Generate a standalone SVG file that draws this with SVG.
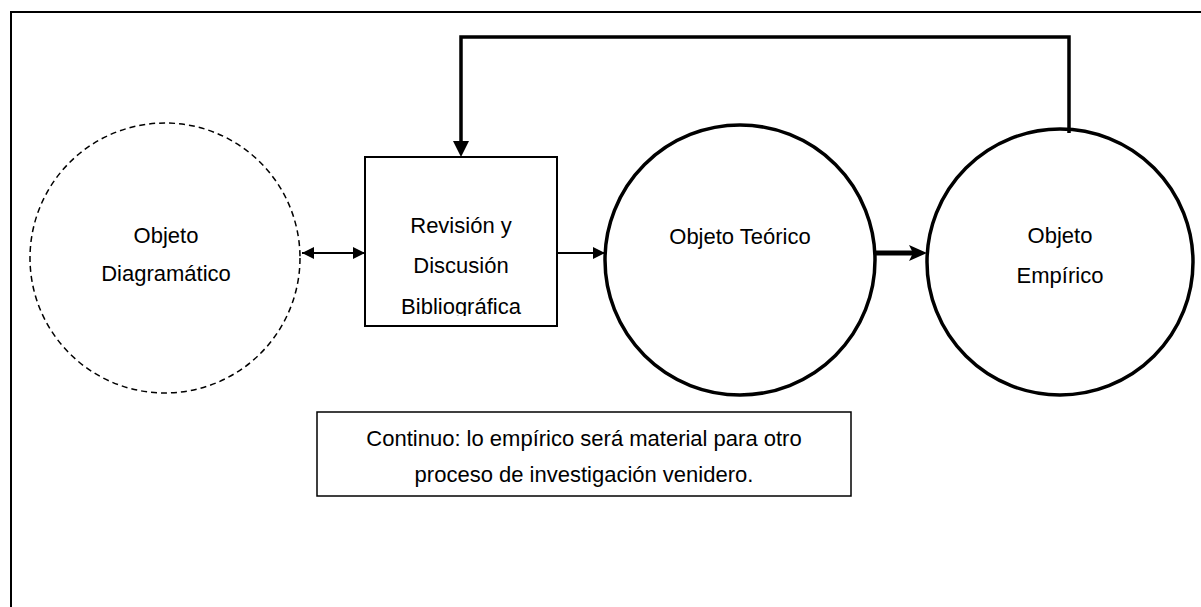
<svg xmlns="http://www.w3.org/2000/svg" width="1201" height="607" viewBox="0 0 1201 607">
<style>
text{font-family:"Liberation Sans",Arial,sans-serif;font-size:22px;fill:#000;text-anchor:middle}
.ln{fill:none;stroke:#000}
</style>
<defs>
<marker id="ah" viewBox="0 0 12 12" refX="12" refY="6" markerWidth="12" markerHeight="12" markerUnits="userSpaceOnUse" orient="auto-start-reverse"><path d="M0,0 L12,6 L0,12 Z" fill="#000"/></marker>
<clipPath id="clipBib"><rect x="365" y="157" width="192" height="159"/></clipPath>
</defs>
<rect width="1201" height="607" fill="#fff"/>
<path class="ln" stroke-width="2" d="M11,607 V12 H1201"/>
<g id="objeto-diagramatico">
<circle cx="165" cy="258" r="135" class="ln" stroke-width="1.5" stroke-dasharray="6 4"/>
<text x="166" y="243">Objeto</text>
<text x="166" y="281">Diagramático</text>
</g>
<g id="revision">
<rect x="365" y="157" width="192" height="169" class="ln" stroke-width="2"/>
<text x="461" y="233">Revisión y</text>
<text x="461" y="273">Discusión</text>
<text x="461" y="314" clip-path="url(#clipBib)">Bibliográfica</text>
</g>
<g id="objeto-teorico">
<circle cx="740" cy="260" r="135" class="ln" stroke-width="3.5"/>
<text x="740" y="244">Objeto Teórico</text>
</g>
<g id="objeto-empirico">
<circle cx="1060" cy="262" r="133" class="ln" stroke-width="3.5"/>
<text x="1060" y="243">Objeto</text>
<text x="1060" y="283">Empírico</text>
</g>
<g id="nota">
<rect x="317" y="412" width="534" height="84" class="ln" stroke-width="1.5"/>
<text x="584" y="446">Continuo: lo empírico será material para otro</text>
<text x="584" y="482">proceso de investigación venidero.</text>
</g>
<g id="connectors">
<line x1="302" y1="253" x2="365" y2="253" class="ln" stroke-width="2" marker-start="url(#ah)" marker-end="url(#ah)"/>
<line x1="557" y1="253" x2="605" y2="253" class="ln" stroke-width="2" marker-end="url(#ah)"/>
<line x1="875" y1="253" x2="913" y2="253" class="ln" stroke-width="5"/>
<path d="M927,253 L909,245 L913,253 L909,261 Z" fill="#000"/>
<path class="ln" stroke-width="3.5" d="M1069,133 V37 H461 V145"/>
<path d="M453,141 L469,141 L461,157 Z" fill="#000"/>
</g>
</svg>
